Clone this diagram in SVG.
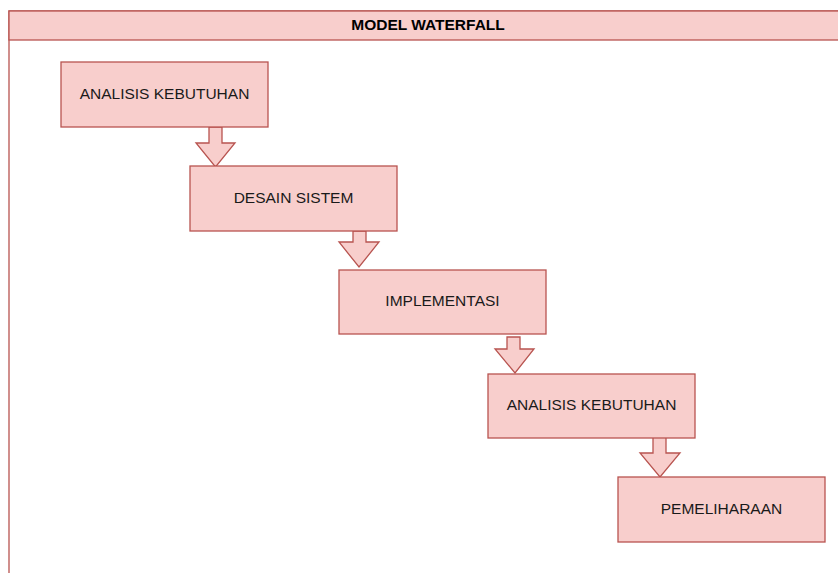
<svg xmlns="http://www.w3.org/2000/svg" width="838" height="573" viewBox="0 0 838 573">
<style>
.box{fill:#f8cecc;stroke:#b85450;stroke-width:1.3}
.arr{fill:#f8cecc;stroke:#b85450;stroke-width:1.3;stroke-linejoin:miter}
.lbl{font-family:"Liberation Sans",Arial,sans-serif;font-size:15.5px;fill:#1a1a1a;text-anchor:middle;dominant-baseline:central}
.ttl{font-family:"Liberation Sans",Arial,sans-serif;font-size:15.5px;font-weight:bold;fill:#000;text-anchor:middle;dominant-baseline:central}
</style>
<rect width="838" height="573" fill="#fff"/>
<g id="container">
<rect x="9" y="11" width="838" height="600" fill="#fff" stroke="#b85450" stroke-width="1.3"/>
<rect class="box" x="9" y="11" width="838" height="29"/>
<text class="ttl" x="428" y="24.5">MODEL WATERFALL</text>
</g>
<g id="connectors">
<path class="arr" d="M209,127 H222 V143 H235 L215.5,167 L196,143 H209 Z"/>
<path class="arr" d="M353,231 H366 V242 H379 L359,267 L339,242 H353 Z"/>
<path class="arr" d="M507,337 H520 V349 H534 L515,373 L495,349 H507 Z"/>
<path class="arr" d="M653,435 H666 V453 H680 L660,477 L640,453 H653 Z"/>
</g>
<g id="node1">
<rect class="box" x="61" y="62" width="207" height="65"/>
<text class="lbl" x="164.5" y="93">ANALISIS KEBUTUHAN</text>
</g>
<g id="node2">
<rect class="box" x="190" y="166" width="207" height="65"/>
<text class="lbl" x="293.5" y="197">DESAIN SISTEM</text>
</g>
<g id="node3">
<rect class="box" x="339" y="270" width="207" height="64"/>
<text class="lbl" x="442.5" y="300.5">IMPLEMENTASI</text>
</g>
<g id="node4">
<rect class="box" x="488" y="374" width="207" height="64"/>
<text class="lbl" x="591.5" y="404.5">ANALISIS KEBUTUHAN</text>
</g>
<g id="node5">
<rect class="box" x="618" y="477" width="207" height="65"/>
<text class="lbl" x="721.5" y="508">PEMELIHARAAN</text>
</g>
</svg>
